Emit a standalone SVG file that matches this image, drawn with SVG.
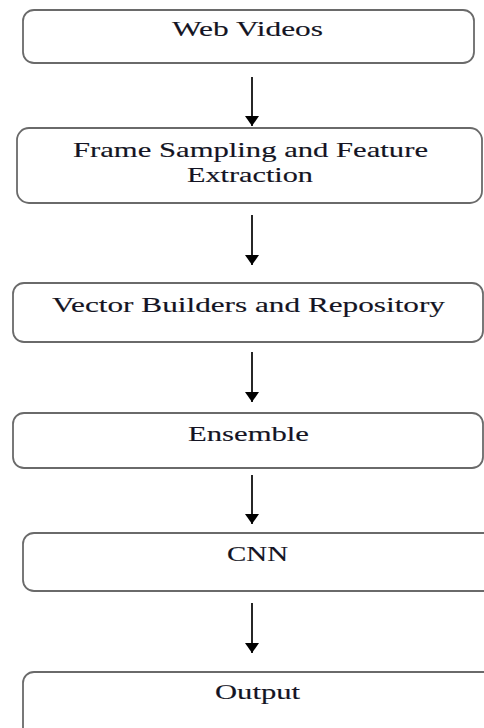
<svg xmlns="http://www.w3.org/2000/svg" width="484" height="728" viewBox="0 0 484 728">
<style>
.box{fill:#fff;stroke:#6a6a6a;stroke-width:1.8}
.t{font-family:"Liberation Serif","Times New Roman",serif;font-size:22px;fill:#141423;stroke:#141423;stroke-width:0.15}
.c{stroke:#000;stroke-width:1.7;fill:none}
</style>
<defs>
<marker id="ah" markerWidth="10" markerHeight="14" refX="10" refY="7" orient="auto" markerUnits="userSpaceOnUse" viewBox="0 0 10 14">
<path d="M0,0 L10,7 L0,14 Z" fill="#000"/>
</marker>
</defs>
<rect width="484" height="728" fill="#fff"/>
<g id="n1"><rect class="box" x="23" y="10" width="451" height="53" rx="11"/><text class="t" x="172" y="36" textLength="151" lengthAdjust="spacingAndGlyphs">Web Videos</text></g>
<g id="n2"><rect class="box" x="17" y="128" width="465" height="75" rx="12"/><text class="t" x="73" y="157" textLength="355" lengthAdjust="spacingAndGlyphs">Frame Sampling and Feature</text><text class="t" x="187" y="182" textLength="126" lengthAdjust="spacingAndGlyphs">Extraction</text></g>
<g id="n3"><rect class="box" x="13" y="283" width="470" height="59" rx="11"/><text class="t" x="52" y="312" textLength="393" lengthAdjust="spacingAndGlyphs">Vector Builders and Repository</text></g>
<g id="n4"><rect class="box" x="13" y="413" width="470" height="55" rx="11"/><text class="t" x="188" y="441" textLength="121" lengthAdjust="spacingAndGlyphs">Ensemble</text></g>
<g id="n5"><rect class="box" x="23" y="533" width="480" height="58" rx="11"/><text class="t" x="227" y="561" textLength="61" lengthAdjust="spacingAndGlyphs">CNN</text></g>
<g id="n6"><rect class="box" x="23" y="672" width="480" height="80" rx="11"/><text class="t" x="215" y="699" textLength="85" lengthAdjust="spacingAndGlyphs">Output</text></g>
<g id="connectors">
<path class="c" d="M252,77 V126" marker-end="url(#ah)"/>
<path class="c" d="M252,215 V265" marker-end="url(#ah)"/>
<path class="c" d="M252,352 V402" marker-end="url(#ah)"/>
<path class="c" d="M252,475 V524" marker-end="url(#ah)"/>
<path class="c" d="M252,603 V653" marker-end="url(#ah)"/>
</g>
</svg>
